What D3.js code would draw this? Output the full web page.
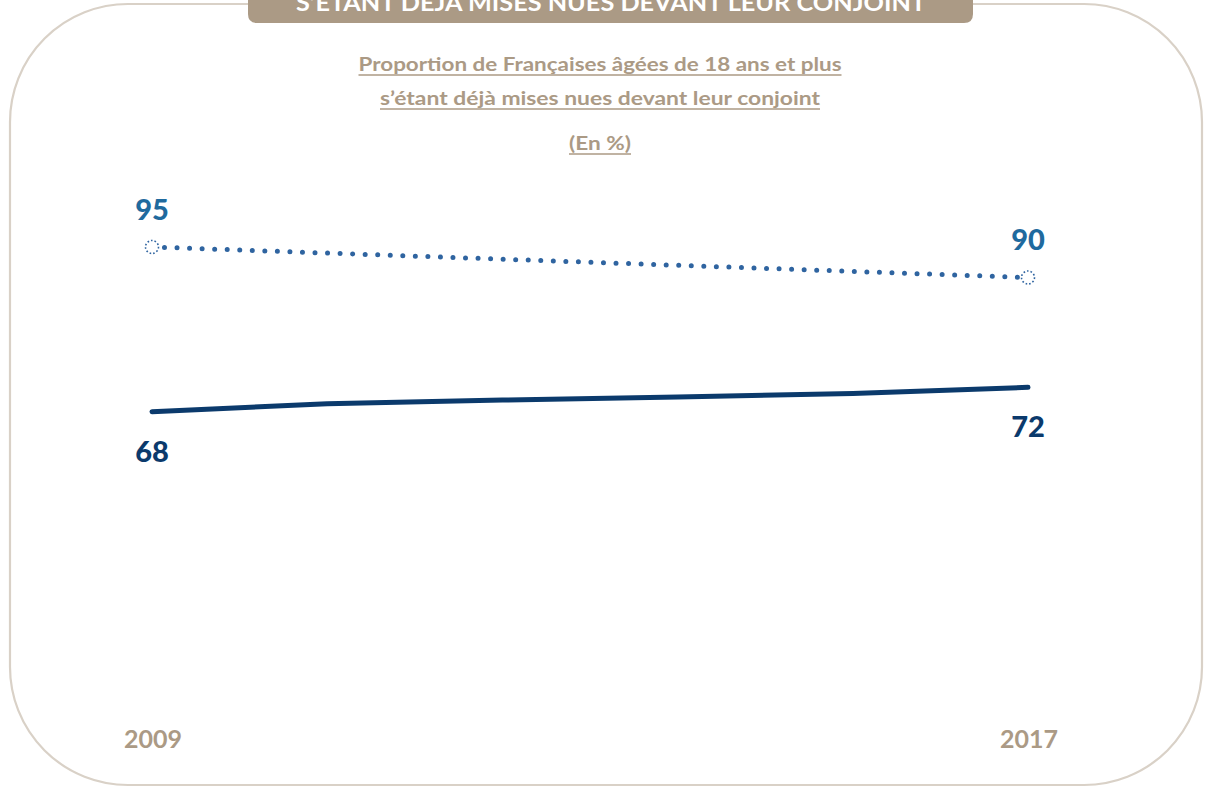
<!DOCTYPE html>
<html><head><meta charset="utf-8">
<script src="https://cdn.jsdelivr.net/npm/d3@7"></script>
<style>html,body{margin:0;padding:0;background:#fff;overflow:hidden}svg{display:block}</style>
</head><body>
<script>
const bannerTitle = "S’ÉTANT DÉJÀ MISES NUES DEVANT LEUR CONJOINT";
const subtitleLines = ["Proportion de Françaises âgées de 18 ans et plus", "s’étant déjà mises nues devant leur conjoint", "(En %)"];
const slots = ["2009", "p1", "p2", "p3", "p4", "2017"];
const tickLabels = ["2009", "", "", "", "", "2017"];
const seriesDotted = [95, null, null, null, null, 90];
const seriesSolid = [68, 69.3, 69.9, 70.4, 71.0, 72];

const W = 1205, H = 788;
const tan = "#ab9a85", frame = "#d9d1c7", blueDot = "#2f64a0", blueLbl = "#1f6a9e", navy = "#0b3a6c";
const font = "Lato, 'Open Sans', sans-serif";

const svg = d3.select("body").append("svg").attr("width", W).attr("height", H);

// frame
svg.append("rect").attr("x", 10).attr("y", 4).attr("width", 1192).attr("height", 781)
  .attr("rx", 118).attr("ry", 118).attr("fill", "none").attr("stroke", frame).attr("stroke-width", 2.2);

// banner
const bp = d3.path();
const bx0 = 248, bx1 = 973, by1 = 23, br = 9;
bp.moveTo(bx0, -5); bp.lineTo(bx0, by1 - br); bp.quadraticCurveTo(bx0, by1, bx0 + br, by1);
bp.lineTo(bx1 - br, by1); bp.quadraticCurveTo(bx1, by1, bx1, by1 - br); bp.lineTo(bx1, -5); bp.closePath();
svg.append("path").attr("d", bp.toString()).attr("fill", tan);
svg.append("text").attr("x", 611).attr("y", 11).attr("text-anchor", "middle")
  .attr("font-family", font).attr("font-weight", 700).attr("font-size", 23).attr("fill", "#fff")
  .attr("textLength", 630).attr("lengthAdjust", "spacingAndGlyphs").text(bannerTitle);

// subtitle
const subY = [71, 105, 150], subW = [483, 440, 62];
subtitleLines.forEach((t, i) => {
  svg.append("text").attr("x", 600).attr("y", subY[i]).attr("text-anchor", "middle")
    .attr("font-family", font).attr("font-weight", 700).attr("font-size", 19).attr("fill", tan)
    .attr("textLength", subW[i]).attr("lengthAdjust", "spacingAndGlyphs").text(t);
  svg.append("line").attr("x1", 600 - subW[i] / 2).attr("x2", 600 + subW[i] / 2)
    .attr("y1", subY[i] + 4).attr("y2", subY[i] + 4).attr("stroke", tan).attr("stroke-width", 1.5);
});

// scales
const x = d3.scalePoint().domain(slots).range([152, 1028]);
const y = d3.scaleLinear().domain([60, 100]).range([460.5, 216.5]);

const dotted = slots.map((s, i) => ({ s, v: seriesDotted[i] })).filter(d => d.v != null);
const solid = slots.map((s, i) => ({ s, v: seriesSolid[i] }));
const line = d3.line().x(d => x(d.s)).y(d => y(d.v));

// solid line
svg.append("path").attr("d", line(solid)).attr("fill", "none").attr("stroke", navy)
  .attr("stroke-width", 5).attr("stroke-linecap", "round").attr("stroke-linejoin", "round");

// dotted line
svg.append("path").attr("d", line(dotted)).attr("fill", "none").attr("stroke", blueDot)
  .attr("stroke-width", 5).attr("stroke-linecap", "round")
  .attr("stroke-dasharray", "0 12.55").attr("stroke-dashoffset", -12.5);
// endpoint markers
svg.selectAll(".mk").data(dotted).enter().append("circle")
  .attr("cx", d => x(d.s)).attr("cy", d => y(d.v)).attr("r", 6.5)
  .attr("fill", "#fff").attr("stroke", blueDot).attr("stroke-width", 1.6)
  .attr("stroke-dasharray", "1.6 2");

// value labels
const lbl = (t, xx, yy, c) => svg.append("text").attr("x", xx).attr("y", yy).attr("text-anchor", "middle")
  .attr("font-family", font).attr("font-weight", 900).attr("font-size", 29).attr("fill", c).text(t);
lbl(seriesDotted[0], x(slots[0]), y(seriesDotted[0]) - 27, blueLbl);
lbl(seriesDotted[5], x(slots[5]), y(seriesDotted[5]) - 28, blueLbl);
lbl(seriesSolid[0], x(slots[0]), y(seriesSolid[0]) + 50, navy);
lbl(seriesSolid[5], x(slots[5]), y(seriesSolid[5]) + 50, navy);

// x axis labels
svg.selectAll(".xl").data(slots.filter((s, i) => tickLabels[i] !== "")).enter().append("text")
  .attr("x", d => x(d) + 1).attr("y", 748).attr("text-anchor", "middle")
  .attr("font-family", font).attr("font-weight", 700).attr("font-size", 25).attr("fill", tan)
  .text((d) => tickLabels[slots.indexOf(d)]);
</script>
</body></html>
